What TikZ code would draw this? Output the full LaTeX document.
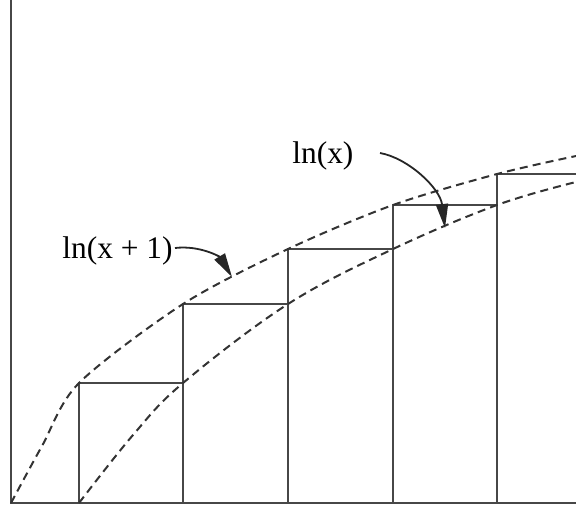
\documentclass[tikz,border=0pt]{standalone}
\usepackage{fontspec}
\setmainfont{Liberation Serif}
\usetikzlibrary{arrows.meta}
\begin{document}
\begin{tikzpicture}[x=0.5pt,y=-0.5pt,
  solidline/.style={line width=1pt, draw=black!72, line join=miter},
  curve/.style={line width=1pt, draw=black!80, dash pattern=on 4pt off 2.6pt},
  pointer/.style={line width=0.9pt, draw=black!85, -{Triangle[length=12pt,width=6pt]}},
  lbl/.style={inner sep=0pt, anchor=base west, font=\fontsize{15.7}{18}\selectfont}]
\useasboundingbox (0,0) rectangle (576,505);
% axes
\coordinate (top) at (11,0);
\coordinate (O) at (11,503);
\coordinate (xend) at (576,503);
\draw[solidline] (top) -- (O) -- (xend);
% step coordinates
\coordinate (b1) at (79,503);  \coordinate (t1) at (79,383);
\coordinate (b2) at (183,503); \coordinate (t2) at (183,304); \coordinate (m2) at (183,383);
\coordinate (b3) at (288,503); \coordinate (t3) at (288,249); \coordinate (m3) at (288,304);
\coordinate (b4) at (393,503); \coordinate (t4) at (393,205); \coordinate (m4) at (393,249);
\coordinate (b5) at (497,503); \coordinate (t5) at (497,174); \coordinate (m5) at (497,205);
\coordinate (e6) at (576,174);
% rectangles
\draw[solidline] (b1) -- (t1) -- (m2);
\draw[solidline] (b2) -- (t2) -- (m3);
\draw[solidline] (b3) -- (t3) -- (m4);
\draw[solidline] (b4) -- (t4) -- (m5);
\draw[solidline] (b5) -- (t5) -- (e6);
% curves
\draw[curve] plot[smooth, tension=0.5] coordinates {(11,503) (42,446) (79,383) (183,304) (288,249) (393,205) (497,174) (576,156)};
\draw[curve] plot[smooth, tension=0.6] coordinates {(79,503) (133,435) (183,383) (288,304) (393,249) (497,205) (576,182)};
% labels
\node[lbl] (lbl1) at (62,258) {ln(x + 1)};
\node[lbl] (lbl2) at (292,163) {ln(x)};
\coordinate (a1s) at (175,248);
\coordinate (a1e) at (232,277);
\coordinate (a2s) at (380,153);
\coordinate (a2e) at (445,228);
\draw[pointer] (a1s) .. controls (200,245) and (220,257) .. (a1e);
\draw[pointer] (a2s) .. controls (408,158) and (440,188) .. (a2e);
\end{tikzpicture}
\end{document}
